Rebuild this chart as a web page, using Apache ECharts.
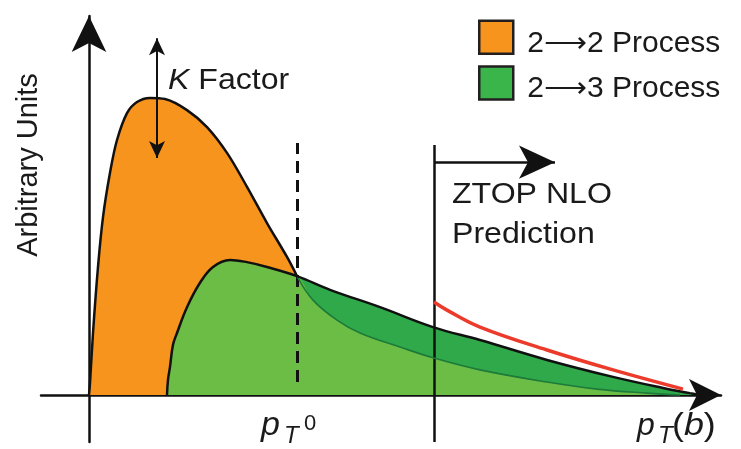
<!DOCTYPE html>
<html>
<head>
<meta charset="utf-8">
<script src="https://cdn.jsdelivr.net/npm/echarts@6/dist/echarts.min.js"></script>
<style>
  html, body { margin: 0; padding: 0; background: #fff; }
  #chart { width: 741px; height: 449px; }
</style>
</head>
<body>
<div id="chart"></div>
<script>
// pT in arbitrary units, cross-section in arbitrary units
const pT0 = 104;          // matching scale where the two processes cross
const ztopCut = 172.5;    // start of the ZTOP NLO prediction

// 2->2 process: rising edge and peak, up to pT0
const proc22Head = [
  [0, 0], [0.5, 3.3], [2, 16.8], [4.5, 34.7], [7, 48.2], [10.5, 60.2],
  [14, 69.1], [19, 76.4], [24, 79.4], [30.5, 80.5], [38, 80.2],
  [49, 77.2], [59, 72.6], [69, 65.6], [79, 56.4], [89, 46.6], [99, 37.4], [104, 32.2]
];
// 2->2 process above pT0 (falls below the 2->3 curve)
const proc22Tail = [
  [104, 32.2], [112, 25.7], [124, 20.3], [135.5, 16.8], [155.5, 13.0],
  [172.5, 10.0], [195.5, 6.8], [229, 3.5], [254, 1.6], [279, 0.5], [295.5, 0]
];
// 2->3 process below pT0
const proc23Head = [
  [39, 0], [39.5, 4.1], [40.5, 7.6], [42, 13.6], [44, 16.8], [49, 23.8],
  [55.5, 30.4], [62, 34.7], [70.5, 36.6], [79, 36.0], [89, 34.7], [104, 32.2]
];
// 2->3 process above pT0
const proc23Tail = [
  [104, 32.2], [120.5, 28.5], [145.5, 23.8], [172, 18.4], [195.5, 14.9],
  [229, 9.5], [262, 4.9], [287, 1.9], [300.5, 0.5], [305.5, 0]
];
// ZTOP NLO prediction
const ztopNLO = [
  [172.5, 25.2], [179, 23.0], [195.5, 18.4], [229, 12.2], [262, 6.8], [297, 1.6]
];

// guide lines
const dashSpan = [3.5, 68.3];
const cutSpan = [-12.74, 67.75];
const cutArrow = { y: 63.1, x0: 172.5, x1: 233 };
const kFactor = { x: 34, y0: 96.7, y1: 64.2 };

const legendNames = ['2⟶2 Process', '2⟶3 Process'];

const ORANGE = '#f7941d';
const GREEN_LIGHT = '#6cbd45';
const GREEN_DARK = '#2fa94a';
const GREEN_LEGEND = '#39b54a';
const INK = '#111';
const TEXT = '#1a1a1a';
const FONT = '"Liberation Sans", Arial, sans-serif';

const chart = echarts.init(document.getElementById('chart'), null, { renderer: 'canvas' });

const lowerEnvelope = proc23Head.concat(proc22Tail.slice(1));
const upper23 = proc23Head.concat(proc23Tail.slice(1));

const option = {
  animation: false,
  backgroundColor: '#fff',
  grid: { left: 41, right: 20, top: 16, bottom: 7 },
  xAxis: {
    type: 'value', min: -24, max: 316,
    axisLine: { onZero: true, symbol: ['none', 'arrow'], symbolSize: [24, 32],
      lineStyle: { color: INK, width: 2.5 } },
    axisTick: { show: false }, axisLabel: { show: false }, splitLine: { show: false }
  },
  yAxis: {
    type: 'value', min: -12.74, max: 102.7,
    axisLine: { onZero: true, symbol: ['none', 'arrow'], symbolSize: [26, 36],
      lineStyle: { color: INK, width: 2.5 } },
    axisTick: { show: false }, axisLabel: { show: false }, splitLine: { show: false }
  },
  legend: {
    orient: 'vertical', left: 478, top: 19.5, padding: 0,
    itemWidth: 34, itemHeight: 33, itemGap: 7, selectedMode: false,
    // a tall spacer token lets the label sit a little below the swatch centre
    formatter: name => '{s| }{t|' + name + '}',
    textStyle: {
      padding: [0, 0, 0, 8],
      rich: {
        s: { fontSize: 10, height: 42, width: 1, verticalAlign: 'top' },
        t: { fontFamily: FONT, fontSize: 30, color: TEXT, lineHeight: 30, verticalAlign: 'bottom' }
      }
    },
    data: [
      { name: legendNames[0], icon: 'rect', itemStyle: { color: ORANGE, borderColor: '#231f20', borderWidth: 2.5 } },
      { name: legendNames[1], icon: 'rect', itemStyle: { color: GREEN_LEGEND, borderColor: '#231f20', borderWidth: 2.5 } }
    ]
  },
  series: [
    {
      name: legendNames[0], type: 'line', data: proc22Head, smooth: 0.35, showSymbol: false,
      itemStyle: { color: ORANGE },
      lineStyle: { color: INK, width: 2.5 },
      areaStyle: { color: ORANGE, opacity: 1 }, z: 2
    },
    {
      name: legendNames[1], type: 'line', data: proc23Tail, smooth: 0.4, showSymbol: false,
      itemStyle: { color: GREEN_LEGEND },
      lineStyle: { width: 0 },
      areaStyle: { color: GREEN_DARK, opacity: 1 }, z: 3
    },
    {
      name: 'lower', type: 'line', data: lowerEnvelope, smooth: 0.4, showSymbol: false,
      lineStyle: { width: 0 },
      areaStyle: { color: GREEN_LIGHT, opacity: 1 }, z: 4
    },
    {
      name: '2→2 tail', type: 'line', data: proc22Tail, smooth: 0.4, showSymbol: false,
      lineStyle: { color: '#1d7a3a', width: 1.6 }, z: 5
    },
    {
      name: '2→3 curve', type: 'line', data: upper23, smooth: 0.4, showSymbol: false,
      lineStyle: { color: INK, width: 2.5 }, z: 6
    },
    {
      name: 'ZTOP NLO', type: 'line', data: ztopNLO, smooth: 0.4, showSymbol: false,
      lineStyle: { color: '#ec3b2b', width: 3.5 }, z: 7,
      markLine: {
        silent: true, animation: false,
        label: { show: false },
        data: [
          [
            { coord: [pT0, dashSpan[0]], symbol: 'none', lineStyle: { color: INK, width: 3, type: [12, 7] } },
            { coord: [pT0, dashSpan[1]], symbol: 'none' }
          ],
          [
            { coord: [ztopCut, cutSpan[0]], symbol: 'none', lineStyle: { color: INK, width: 2.5, type: 'solid' } },
            { coord: [ztopCut, cutSpan[1]], symbol: 'none' }
          ],
          [
            { coord: [cutArrow.x0, cutArrow.y], symbol: 'none', lineStyle: { color: INK, width: 2.5, type: 'solid' } },
            { coord: [cutArrow.x1, cutArrow.y], symbol: 'arrow', symbolSize: [25, 36] }
          ],
          [
            { coord: [kFactor.x, kFactor.y0], symbol: 'arrow', symbolSize: [12, 17], lineStyle: { color: INK, width: 2, type: 'solid' } },
            { coord: [kFactor.x, kFactor.y1], symbol: 'arrow', symbolSize: [12, 17] }
          ]
        ]
      }
    }
  ],
  graphic: [
    { type: 'text', x: 29, y: 165, rotation: Math.PI / 2,
      style: { text: 'Arbitrary Units', font: '29px ' + FONT, fill: TEXT, align: 'center', verticalAlign: 'middle' } },
    { type: 'text', x: 168, y: 81, scaleX: 1.07,
      style: { text: '{i|K} Factor', font: '30px ' + FONT, fill: TEXT, verticalAlign: 'middle',
        rich: { i: { fontStyle: 'italic', fontSize: 30, fontFamily: FONT, fill: TEXT } } } },
    { type: 'text', x: 452, y: 175, scaleX: 1.07,
      style: { text: 'ZTOP NLO\nPrediction', font: '30px ' + FONT, fill: TEXT, lineHeight: 40, verticalAlign: 'top' } },
    { type: 'text', x: 261, y: 425.5,
      style: { text: 'p', font: 'italic 34px ' + FONT, fill: TEXT, verticalAlign: 'middle' } },
    { type: 'text', x: 284, y: 436.7,
      style: { text: 'T', font: 'italic 24px ' + FONT, fill: TEXT, verticalAlign: 'middle' } },
    { type: 'text', x: 304, y: 424.4,
      style: { text: '0', font: '22px ' + FONT, fill: TEXT, verticalAlign: 'middle' } },
    { type: 'text', x: 637, y: 426,
      style: { text: 'p', font: 'italic 32px ' + FONT, fill: TEXT, verticalAlign: 'middle' } },
    { type: 'text', x: 658, y: 436.7,
      style: { text: 'T', font: 'italic 24px ' + FONT, fill: TEXT, verticalAlign: 'middle' } },
    { type: 'text', x: 672, y: 426, scaleX: 1.12,
      style: { text: '({i|b})', font: '32px ' + FONT, fill: TEXT, verticalAlign: 'middle',
        rich: { i: { fontStyle: 'italic', fontSize: 32, fontFamily: FONT, fill: TEXT } } } }
  ]
};

chart.setOption(option);
</script>
</body>
</html>
